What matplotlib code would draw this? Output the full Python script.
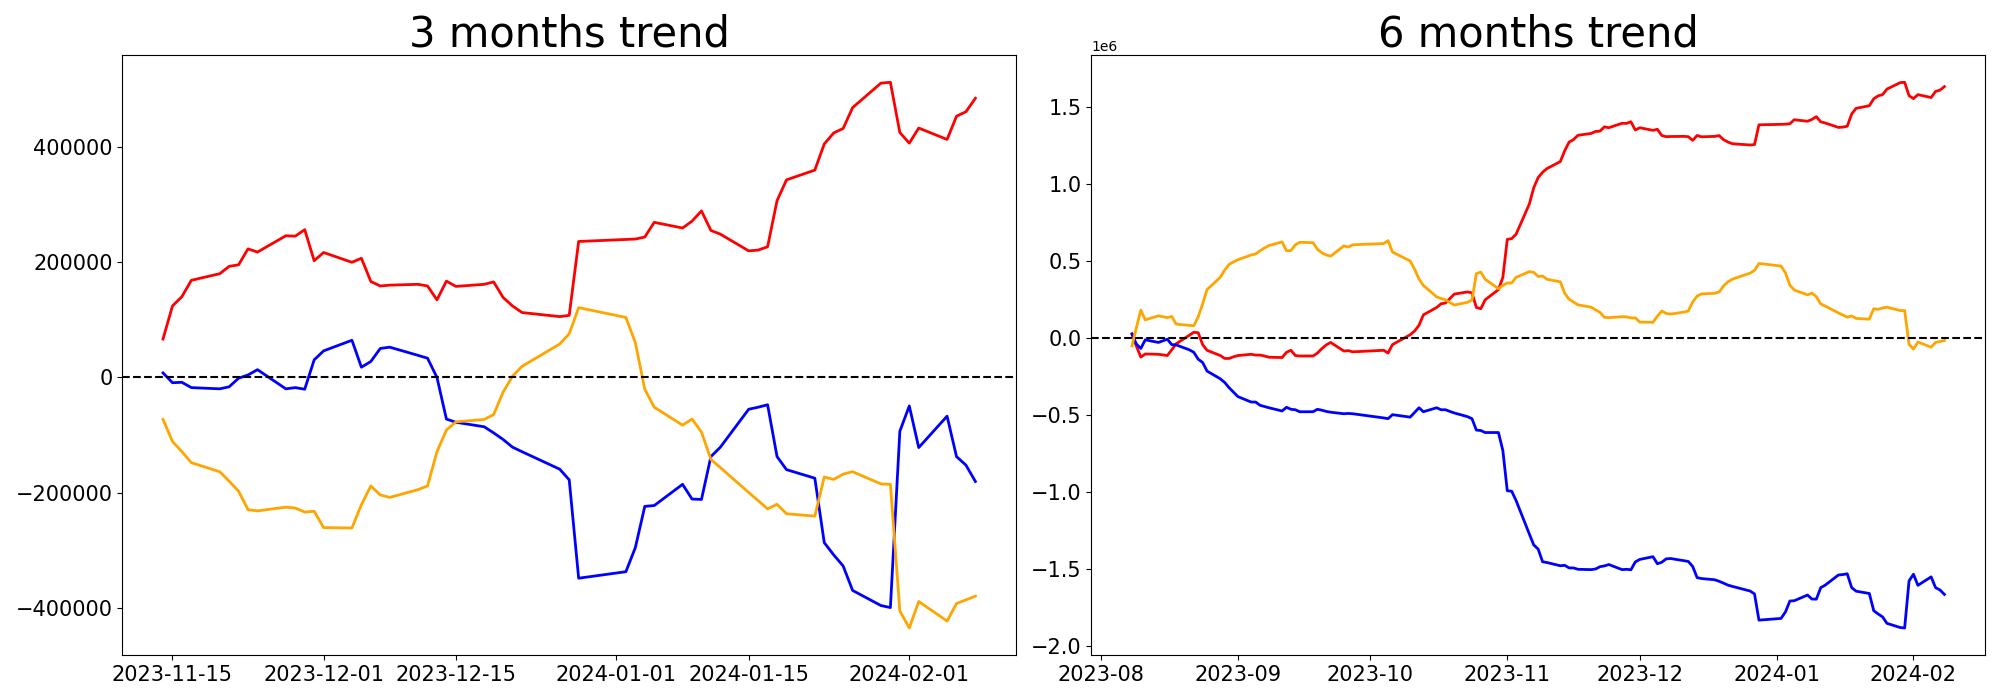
import matplotlib
matplotlib.use("Agg")
import matplotlib.pyplot as plt
import numpy as np
import pandas as pd

# trading calendar (KRX closures inside the window)
CLOSED = ["2023-08-15", "2023-09-28", "2023-09-29", "2023-10-02", "2023-10-03",
          "2023-10-09", "2023-12-25", "2023-12-29", "2024-01-01"]
dates_6m = pd.bdate_range("2023-08-08", "2024-02-08", freq="C", holidays=CLOSED)
dates_3m = dates_6m[dates_6m >= "2023-11-14"]

# 3 months cumulative (won)
red_3m = [66500, 123800, 140100, 168400, 179800, 192500, 195300, 222900, 217300,
          245600, 244900, 256200, 202400, 216600, 199600, 206600, 166300, 158500,
          160000, 161400, 158500, 134500, 167000, 157800, 161400, 165600, 138700,
          123800, 112500, 105400, 107600, 235700, 239200, 239900, 243400, 268900,
          259000, 271000, 288700, 254800, 248400, 219400, 220800, 226500, 306400,
          342500, 359500, 404800, 423900, 431700, 467800, 510300, 511700, 424600,
          406200, 432400, 412600, 452900, 460700, 484100]
blue_3m = [7800, -9200, -8500, -17700, -19800, -16300, -1400, 4200, 13400, -19800,
           -17700, -20500, 30400, 46000, 64400, 17700, 27600, 50200, 52400, 38200,
           33300, 0, -72200, -77800, -85600, -96200, -107600, -121000, -128800,
           -159200, -177600, -348200, -336900, -295100, -223600, -222200, -185400,
           -210900, -211600, -137300, -121000, -55200, -51700, -47400, -137300,
           -159900, -174800, -286600, -307800, -327000, -369400, -395600, -399100,
           -93400, -49500, -121700, -67200, -137300, -152200, -180500]
orange_3m = [-72900, -111100, -128800, -147900, -163500, -179800, -197400, -229300,
             -231400, -225000, -226500, -233500, -232100, -260400, -261100, -220800,
             -188200, -203800, -208100, -194600, -188200, -128800, -91300, -77100,
             -72900, -64400, -25500, 2100, 19100, 58000, 75700, 121000, 104000, 60200,
             -20500, -51700, -82800, -72200, -94800, -142200, -156400, -199600,
             -213700, -227900, -220100, -236400, -240600, -172700, -176900, -167700,
             -163500, -184700, -185400, -404800, -434500, -388500, -422500, -392100,
             -385700, -379300]

# 6 months cumulative (won)
red_6m = [30000, -50000, -121000, -101000, -103000, -111000, -74000, -35000, 21000,
          40000, 37000, -40000, -77000, -111000, -130000, -130000, -119000,
          -111000, -103000, -108000, -108000, -114000, -122000, -124000, -90000,
          -77000, -111000, -114000, -114000, -95000, -66000, -42000, -26000,
          -82000, -79000, -87000,
          -77000, -95000, -40000, 24000, 48000, 85000, 153000, 201000, 225000,
          230000, 259000, 288000, 302000, 296000, 201000, 193000, 251000, 317000,
          397000,
          643000, 648000, 677000, 873000, 979000, 1045000, 1079000, 1103000, 1148000,
          1218000, 1275000, 1291000, 1319000, 1331000, 1344000, 1346000, 1374000,
          1368000, 1397000, 1396000, 1407000, 1353000, 1368000, 1351000, 1358000,
          1317000, 1310000, 1311000, 1312000, 1310000, 1286000, 1318000, 1309000,
          1312000, 1317000, 1290000, 1275000, 1264000, 1256000, 1259000, 1387000,
          1390000, 1391000, 1394000, 1420000, 1410000, 1422000, 1440000, 1406000,
          1399000, 1370000, 1372000, 1378000, 1457000, 1494000, 1511000, 1556000,
          1575000, 1583000, 1619000, 1661000, 1663000, 1576000, 1557000, 1583000,
          1564000, 1604000, 1612000, 1635000]
blue_6m = [28000, -37000, -65000, -9000, -26000, -5000, -40000, -42000, -74000,
           -90000, -135000, -156000, -212000, -262000, -286000, -320000, -349000,
           -378000, -413000, -413000, -434000, -442000, -450000, -471000, -447000,
           -460000, -463000, -476000, -476000, -460000, -466000, -474000, -479000,
           -489000, -487000, -489000,
           -516000, -521000, -495000, -511000, -481000, -450000, -476000, -450000,
           -463000, -463000, -474000, -484000, -508000, -521000, -595000, -598000,
           -611000, -611000, -728000,
           -989000, -992000, -1053000, -1270000, -1341000, -1368000, -1450000,
           -1455000, -1476000,
           -1473000, -1490000, -1490000, -1499000, -1501000, -1497000, -1482000,
           -1477000, -1468000, -1501000, -1499000, -1502000, -1451000, -1435000,
           -1417000, -1463000, -1453000, -1431000, -1429000, -1443000, -1448000,
           -1481000, -1553000, -1559000, -1567000, -1577000, -1589000, -1602000,
           -1610000, -1640000, -1659000, -1829000, -1818000, -1776000, -1705000,
           -1703000, -1666000, -1692000, -1693000, -1618000, -1602000, -1536000,
           -1533000, -1528000, -1618000, -1641000, -1656000, -1768000, -1789000,
           -1808000, -1850000, -1877000, -1880000, -1574000, -1531000, -1603000,
           -1548000, -1618000, -1633000, -1662000]
orange_6m = [-48000, 70000, 184000, 121000, 147000, 135000, 143000, 93000, 85000,
             82000, 140000, 225000, 317000, 397000, 444000, 481000, 497000,
             511000, 542000, 548000, 569000, 587000, 603000, 627000, 569000, 571000,
             608000, 624000, 622000, 579000, 556000, 542000, 534000, 601000, 593000,
             608000,
             616000, 635000, 561000, 503000, 450000, 386000, 344000, 270000, 259000,
             251000, 233000, 217000, 235000, 249000, 421000, 431000, 384000, 323000,
             344000,
             360000, 360000, 397000, 434000, 429000, 402000, 405000, 384000, 368000,
             293000, 255000, 237000, 218000, 203000, 186000, 169000, 137000, 135000,
             141000, 140000, 133000, 134000, 106000, 105000, 145000, 178000, 162000,
             158000, 171000, 178000, 237000, 275000, 289000, 293000, 302000, 341000,
             368000, 385000, 424000, 442000, 487000, 470000, 426000, 346000, 314000,
             283000, 294000, 271000, 224000, 210000, 166000, 152000, 138000, 146000,
             130000, 125000, 193000, 189000, 198000, 203000, 181000, 181000, -39000,
             -69000, -23000, -57000, -26000, -20000, -13000]

fig, axes = plt.subplots(1, 2, figsize=(20, 7), dpi=100)
fig.subplots_adjust(left=0.0612, right=0.9925, top=0.9214, bottom=0.0639, wspace=0.0843)

panels = [(axes[0], dates_3m, red_3m, blue_3m, orange_3m, "3 months trend"),
          (axes[1], dates_6m, red_6m, blue_6m, orange_6m, "6 months trend")]
for ax, d, r, b, o, title in panels:
    ax.plot(d, r, color="red", lw=2)
    ax.plot(d, b, color="blue", lw=2)
    ax.plot(d, o, color="orange", lw=2)
    ax.axhline(0, color="black", ls="--", lw=1.5)
    ax.set_title(title, fontsize=30)
    ax.tick_params(labelsize=15)

fig.savefig("out.png")
